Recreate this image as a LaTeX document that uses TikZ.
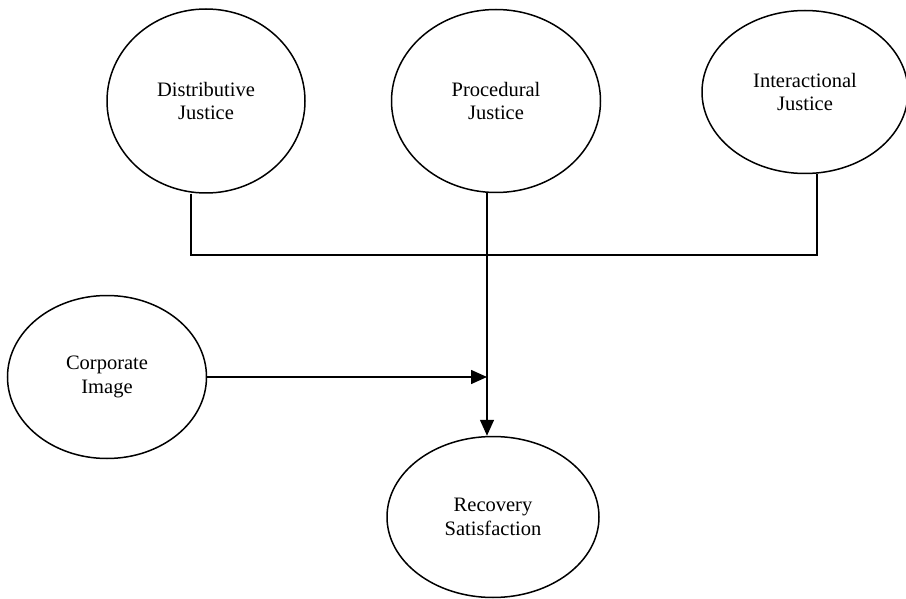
\documentclass[tikz,border=0pt]{standalone}
\usepackage{fontspec}
\setmainfont{Liberation Serif}
\usetikzlibrary{shapes.geometric,arrows.meta}

\tikzset{
  factor/.style={draw, ellipse, line width=1.5pt, inner sep=0pt, align=center,
    font=\fontsize{20.5}{23.5}\selectfont},
  link/.style={line width=1.5pt},
  tip/.style={link, -{Triangle[length=16pt, width=14pt]}}
}

\begin{document}
\begin{tikzpicture}[x=1pt, y=-1pt]
  \useasboundingbox (0, 0) rectangle (906, 599);

  % Justice dimensions.
  \node[factor, minimum width=198pt, minimum height=184pt] (dist) at (206, 101) {Distributive\\Justice};
  \node[factor, minimum width=209pt, minimum height=183pt] (proc) at (496, 101) {Procedural\\Justice};
  \node[factor, minimum width=206pt, minimum height=163pt] (inter) at (805, 92) {Interactional\\Justice};

  % Moderator.
  \node[factor, minimum width=199pt, minimum height=163pt] (corp) at (107, 377) {Corporate\\Image};

  % Outcome.
  \node[factor, minimum width=212pt, minimum height=161pt] (rec) at (493, 517) {Recovery\\Satisfaction};

  % Joining bar under the three justice ovals.
  \coordinate (barl) at (191, 255);
  \coordinate (barr) at (817, 255);
  \draw[link] (dist.south -| barl) -- (barl) -- (barr) -- (inter.south -| barr);

  % Main path down to the outcome.
  \coordinate (stem) at (487, 377);
  \draw[tip] (proc.south -| stem) -- (rec.north -| stem);

  % Corporate image into the main path.
  \draw[tip] (corp.east) -- (stem);

\end{tikzpicture}
\end{document}
